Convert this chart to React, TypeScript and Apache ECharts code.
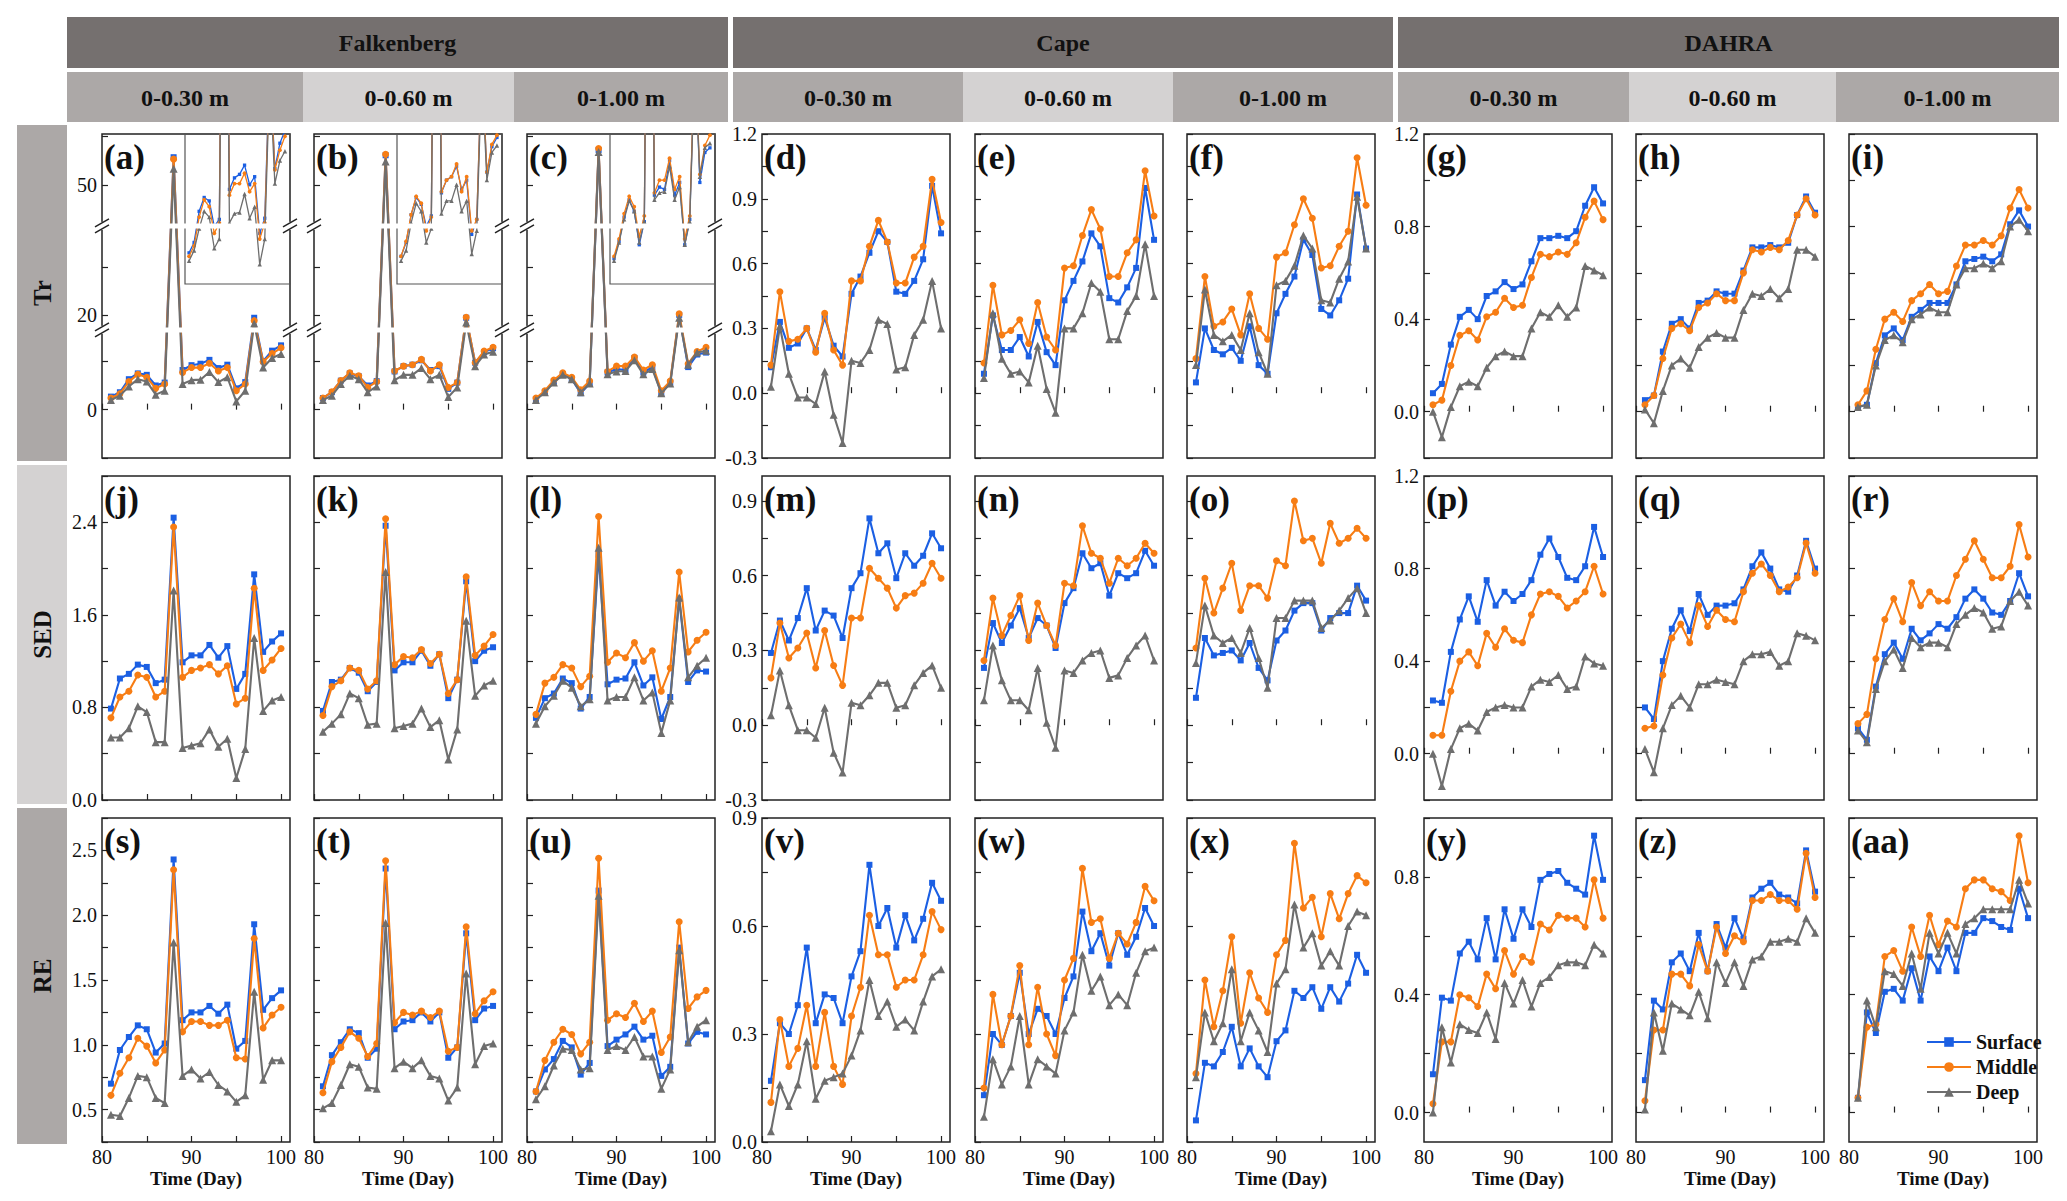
import { useEffect, useRef } from 'react';
import * as echarts from 'echarts';

// ---------------- data ----------------
const DAYS = [81, 82, 83, 84, 85, 86, 87, 88, 89, 90, 91, 92, 93, 94, 95, 96, 97, 98, 99, 100];
const SITES = ['Falkenberg', 'Cape', 'DAHRA'];
const DEPTHS = ['0-0.30 m', '0-0.60 m', '0-1.00 m'];
const METRICS = ['Tr', 'SED', 'RE'];
const PANEL_LABELS = ['(a)', '(b)', '(c)', '(d)', '(e)', '(f)', '(g)', '(h)', '(i)', '(j)', '(k)', '(l)', '(m)', '(n)', '(o)', '(p)', '(q)', '(r)', '(s)', '(t)', '(u)', '(v)', '(w)', '(x)', '(y)', '(z)', '(aa)'];
const SERIES_NAMES = ['Surface', 'Middle', 'Deep'];

// Tr
const a_surface = [2.7, 3.6, 6.3, 7.5, 7.2, 5.0, 5.6, 55.7, 8.2, 9.2, 9.5, 10.3, 8.6, 9.3, 4.4, 5.7, 19.5, 10.0, 12.2, 13.3];
const a_middle = [2.4, 3.3, 5.8, 7.3, 6.7, 4.4, 5.3, 55.3, 7.7, 8.7, 8.7, 9.6, 8.0, 8.7, 3.9, 5.3, 18.9, 9.9, 11.6, 12.8];
const a_deep = [2.0, 2.9, 4.8, 6.3, 5.8, 3.1, 3.9, 53.3, 5.3, 6.1, 6.2, 7.8, 5.7, 6.7, 1.7, 3.9, 18.3, 8.7, 10.7, 11.5];
const b_surface = [2.4, 3.6, 6.0, 7.5, 6.9, 5.0, 5.9, 56.1, 7.9, 9.0, 9.3, 10.2, 8.2, 9.0, 4.3, 5.6, 19.5, 9.7, 11.9, 12.7];
const b_middle = [2.4, 3.7, 6.0, 7.6, 7.0, 4.6, 5.8, 56.3, 8.0, 9.0, 9.3, 10.4, 8.0, 9.3, 4.6, 5.6, 19.6, 9.7, 12.1, 12.9];
const b_deep = [2.0, 2.9, 5.3, 7.0, 6.3, 3.6, 4.8, 54.8, 6.1, 7.2, 7.2, 8.6, 6.3, 7.2, 2.6, 4.6, 18.5, 9.0, 11.4, 12.0];
const c_surface = [2.2, 3.7, 5.8, 7.3, 6.3, 3.4, 5.4, 57.2, 7.7, 8.4, 8.2, 10.7, 7.7, 8.8, 3.4, 5.6, 20.1, 8.8, 11.4, 11.8];
const c_middle = [2.4, 3.9, 6.1, 7.6, 6.7, 4.1, 5.9, 57.5, 7.9, 9.0, 9.0, 10.9, 8.2, 9.3, 3.9, 5.9, 20.3, 9.5, 12.0, 12.9];
const c_deep = [2.0, 3.6, 5.6, 7.2, 6.3, 3.6, 5.4, 56.8, 7.3, 7.9, 8.0, 10.2, 7.3, 8.4, 3.4, 5.4, 19.5, 9.3, 11.8, 12.2];
const d_surface = [0.12, 0.33, 0.21, 0.23, 0.30, 0.20, 0.35, 0.22, 0.17, 0.46, 0.54, 0.65, 0.75, 0.70, 0.47, 0.46, 0.52, 0.62, 0.96, 0.74];
const d_middle = [0.13, 0.47, 0.24, 0.25, 0.30, 0.19, 0.37, 0.20, 0.13, 0.52, 0.52, 0.68, 0.80, 0.70, 0.51, 0.51, 0.63, 0.68, 0.99, 0.79];
const d_deep = [0.03, 0.31, 0.09, -0.02, -0.02, -0.05, 0.10, -0.10, -0.23, 0.15, 0.14, 0.20, 0.34, 0.32, 0.11, 0.12, 0.27, 0.34, 0.52, 0.30];
const e_surface = [0.09, 0.36, 0.20, 0.20, 0.26, 0.17, 0.33, 0.19, 0.13, 0.43, 0.52, 0.61, 0.74, 0.68, 0.44, 0.42, 0.49, 0.58, 0.95, 0.71];
const e_middle = [0.14, 0.50, 0.27, 0.29, 0.34, 0.23, 0.42, 0.26, 0.20, 0.58, 0.59, 0.73, 0.85, 0.76, 0.54, 0.54, 0.65, 0.71, 1.03, 0.82];
const e_deep = [0.07, 0.37, 0.16, 0.09, 0.10, 0.05, 0.22, 0.02, -0.09, 0.30, 0.30, 0.37, 0.51, 0.47, 0.25, 0.25, 0.38, 0.45, 0.69, 0.45];
const f_surface = [0.05, 0.30, 0.20, 0.18, 0.21, 0.15, 0.31, 0.13, 0.09, 0.37, 0.46, 0.54, 0.71, 0.64, 0.39, 0.36, 0.43, 0.53, 0.92, 0.67];
const f_middle = [0.16, 0.54, 0.31, 0.33, 0.39, 0.27, 0.46, 0.30, 0.25, 0.63, 0.65, 0.78, 0.90, 0.81, 0.58, 0.59, 0.68, 0.75, 1.09, 0.87];
const f_deep = [0.13, 0.48, 0.27, 0.24, 0.27, 0.20, 0.37, 0.19, 0.09, 0.50, 0.52, 0.59, 0.73, 0.67, 0.43, 0.42, 0.53, 0.61, 0.91, 0.67];
const g_surface = [0.08, 0.12, 0.29, 0.41, 0.44, 0.40, 0.50, 0.52, 0.56, 0.53, 0.55, 0.65, 0.75, 0.75, 0.76, 0.75, 0.78, 0.89, 0.97, 0.90];
const g_middle = [0.03, 0.05, 0.20, 0.33, 0.35, 0.31, 0.41, 0.43, 0.49, 0.45, 0.46, 0.58, 0.68, 0.67, 0.69, 0.68, 0.73, 0.84, 0.91, 0.83];
const g_deep = [0.00, -0.11, 0.02, 0.11, 0.13, 0.11, 0.19, 0.24, 0.26, 0.24, 0.24, 0.36, 0.43, 0.41, 0.46, 0.41, 0.45, 0.63, 0.61, 0.59];
const h_surface = [0.05, 0.07, 0.26, 0.38, 0.40, 0.36, 0.47, 0.48, 0.52, 0.51, 0.51, 0.61, 0.71, 0.71, 0.72, 0.71, 0.73, 0.85, 0.93, 0.86];
const h_middle = [0.03, 0.07, 0.23, 0.36, 0.38, 0.35, 0.45, 0.47, 0.51, 0.48, 0.48, 0.60, 0.70, 0.69, 0.71, 0.70, 0.74, 0.85, 0.92, 0.85];
const h_deep = [0.01, -0.05, 0.09, 0.20, 0.23, 0.19, 0.28, 0.32, 0.34, 0.32, 0.32, 0.44, 0.51, 0.50, 0.53, 0.49, 0.53, 0.70, 0.70, 0.67];
const i_surface = [0.02, 0.03, 0.21, 0.33, 0.36, 0.31, 0.41, 0.44, 0.47, 0.47, 0.47, 0.55, 0.65, 0.66, 0.67, 0.65, 0.68, 0.81, 0.87, 0.80];
const i_middle = [0.03, 0.09, 0.27, 0.40, 0.43, 0.39, 0.48, 0.51, 0.55, 0.51, 0.52, 0.63, 0.72, 0.72, 0.74, 0.72, 0.76, 0.88, 0.96, 0.88];
const i_deep = [0.02, 0.03, 0.20, 0.31, 0.33, 0.30, 0.40, 0.42, 0.45, 0.43, 0.43, 0.55, 0.62, 0.62, 0.64, 0.62, 0.65, 0.80, 0.83, 0.78];
// SED
const j_surface = [0.79, 1.05, 1.09, 1.17, 1.15, 1.01, 1.04, 2.44, 1.19, 1.25, 1.25, 1.34, 1.23, 1.33, 0.96, 1.09, 1.95, 1.28, 1.37, 1.44];
const j_middle = [0.71, 0.89, 0.94, 1.08, 1.06, 0.89, 0.94, 2.36, 1.06, 1.12, 1.14, 1.17, 1.09, 1.16, 0.83, 0.88, 1.83, 1.12, 1.21, 1.31];
const j_deep = [0.54, 0.54, 0.62, 0.81, 0.76, 0.50, 0.50, 1.81, 0.45, 0.47, 0.49, 0.61, 0.46, 0.53, 0.19, 0.44, 1.40, 0.77, 0.86, 0.89];
const k_surface = [0.77, 1.02, 1.04, 1.14, 1.10, 0.94, 1.02, 2.37, 1.12, 1.19, 1.19, 1.29, 1.16, 1.26, 0.88, 1.04, 1.89, 1.20, 1.29, 1.32];
const k_middle = [0.73, 0.98, 1.03, 1.14, 1.12, 0.96, 1.03, 2.43, 1.17, 1.24, 1.23, 1.30, 1.18, 1.26, 0.92, 1.04, 1.93, 1.25, 1.33, 1.43];
const k_deep = [0.59, 0.66, 0.74, 0.92, 0.88, 0.65, 0.66, 1.97, 0.62, 0.64, 0.66, 0.79, 0.63, 0.69, 0.35, 0.61, 1.55, 0.90, 0.99, 1.03];
const l_surface = [0.71, 0.88, 0.92, 1.05, 1.01, 0.79, 0.89, 2.12, 1.00, 1.04, 1.05, 1.19, 0.99, 1.06, 0.70, 0.89, 1.74, 1.02, 1.12, 1.11];
const l_middle = [0.74, 1.01, 1.06, 1.17, 1.14, 0.98, 1.07, 2.45, 1.19, 1.27, 1.23, 1.36, 1.20, 1.29, 0.94, 1.14, 1.97, 1.28, 1.38, 1.45];
const l_deep = [0.66, 0.81, 0.90, 1.03, 0.97, 0.81, 0.87, 2.18, 0.86, 0.89, 0.89, 1.06, 0.86, 0.93, 0.58, 0.86, 1.75, 1.06, 1.16, 1.23];
const m_surface = [0.29, 0.42, 0.34, 0.43, 0.55, 0.38, 0.46, 0.44, 0.35, 0.55, 0.61, 0.83, 0.69, 0.73, 0.59, 0.69, 0.64, 0.68, 0.77, 0.71];
const m_middle = [0.19, 0.41, 0.27, 0.31, 0.37, 0.23, 0.38, 0.24, 0.16, 0.43, 0.43, 0.63, 0.59, 0.55, 0.47, 0.52, 0.53, 0.57, 0.65, 0.59];
const m_deep = [0.04, 0.22, 0.08, -0.02, -0.02, -0.05, 0.07, -0.11, -0.19, 0.09, 0.08, 0.12, 0.17, 0.17, 0.07, 0.08, 0.16, 0.21, 0.24, 0.15];
const n_surface = [0.23, 0.41, 0.33, 0.40, 0.47, 0.35, 0.43, 0.40, 0.31, 0.49, 0.55, 0.69, 0.63, 0.65, 0.52, 0.61, 0.59, 0.61, 0.70, 0.64];
const n_middle = [0.26, 0.51, 0.36, 0.44, 0.52, 0.34, 0.49, 0.40, 0.32, 0.57, 0.56, 0.80, 0.69, 0.67, 0.57, 0.67, 0.64, 0.67, 0.73, 0.69];
const n_deep = [0.10, 0.32, 0.18, 0.10, 0.10, 0.06, 0.23, 0.01, -0.09, 0.22, 0.21, 0.26, 0.29, 0.30, 0.19, 0.20, 0.27, 0.32, 0.36, 0.26];
const o_surface = [0.11, 0.35, 0.28, 0.29, 0.30, 0.26, 0.33, 0.23, 0.18, 0.34, 0.38, 0.46, 0.49, 0.49, 0.38, 0.43, 0.45, 0.45, 0.56, 0.50];
const o_middle = [0.31, 0.59, 0.45, 0.55, 0.65, 0.46, 0.56, 0.56, 0.51, 0.66, 0.64, 0.90, 0.74, 0.75, 0.65, 0.81, 0.73, 0.75, 0.79, 0.75];
const o_deep = [0.25, 0.48, 0.36, 0.33, 0.35, 0.29, 0.39, 0.27, 0.15, 0.43, 0.43, 0.50, 0.50, 0.50, 0.39, 0.42, 0.46, 0.51, 0.55, 0.45];
const p_surface = [0.23, 0.22, 0.44, 0.58, 0.68, 0.57, 0.75, 0.64, 0.70, 0.66, 0.69, 0.75, 0.86, 0.93, 0.85, 0.76, 0.75, 0.81, 0.98, 0.85];
const p_middle = [0.08, 0.08, 0.27, 0.40, 0.44, 0.38, 0.52, 0.46, 0.54, 0.49, 0.48, 0.60, 0.69, 0.70, 0.68, 0.63, 0.66, 0.70, 0.81, 0.69];
const p_deep = [0.00, -0.14, 0.02, 0.11, 0.13, 0.10, 0.18, 0.20, 0.21, 0.20, 0.20, 0.29, 0.32, 0.31, 0.34, 0.28, 0.29, 0.42, 0.39, 0.38];
const q_surface = [0.20, 0.15, 0.40, 0.54, 0.62, 0.53, 0.69, 0.60, 0.64, 0.64, 0.65, 0.71, 0.81, 0.87, 0.80, 0.71, 0.70, 0.77, 0.92, 0.80];
const q_middle = [0.11, 0.12, 0.34, 0.50, 0.56, 0.48, 0.64, 0.55, 0.62, 0.58, 0.57, 0.70, 0.78, 0.82, 0.77, 0.70, 0.72, 0.76, 0.91, 0.78];
const q_deep = [0.02, -0.08, 0.11, 0.21, 0.25, 0.20, 0.30, 0.30, 0.32, 0.31, 0.30, 0.40, 0.43, 0.43, 0.44, 0.38, 0.40, 0.52, 0.51, 0.49];
const r_surface = [0.11, 0.06, 0.29, 0.43, 0.48, 0.41, 0.54, 0.49, 0.52, 0.56, 0.54, 0.59, 0.67, 0.71, 0.67, 0.61, 0.60, 0.66, 0.78, 0.68];
const r_middle = [0.13, 0.17, 0.41, 0.58, 0.67, 0.57, 0.74, 0.64, 0.70, 0.66, 0.66, 0.77, 0.84, 0.92, 0.84, 0.76, 0.76, 0.81, 0.99, 0.85];
const r_deep = [0.10, 0.05, 0.28, 0.40, 0.45, 0.37, 0.50, 0.46, 0.48, 0.48, 0.46, 0.56, 0.60, 0.63, 0.61, 0.54, 0.55, 0.66, 0.70, 0.64];
// RE
const s_surface = [0.70, 0.96, 1.06, 1.15, 1.12, 0.94, 1.01, 2.43, 1.19, 1.25, 1.25, 1.30, 1.24, 1.31, 0.97, 1.03, 1.93, 1.27, 1.36, 1.42];
const s_middle = [0.61, 0.78, 0.90, 1.05, 0.99, 0.86, 0.96, 2.35, 1.10, 1.18, 1.18, 1.15, 1.15, 1.19, 0.90, 0.89, 1.82, 1.13, 1.23, 1.29];
const s_deep = [0.46, 0.45, 0.59, 0.76, 0.75, 0.59, 0.55, 1.79, 0.76, 0.81, 0.74, 0.79, 0.69, 0.64, 0.56, 0.61, 1.41, 0.73, 0.88, 0.88];
const t_surface = [0.68, 0.92, 1.02, 1.12, 1.09, 0.90, 0.97, 2.36, 1.12, 1.18, 1.19, 1.25, 1.18, 1.25, 0.90, 0.98, 1.86, 1.19, 1.28, 1.30];
const t_middle = [0.63, 0.87, 0.98, 1.10, 1.05, 0.91, 1.01, 2.42, 1.17, 1.25, 1.23, 1.26, 1.21, 1.26, 0.95, 0.98, 1.91, 1.24, 1.34, 1.41];
const t_deep = [0.51, 0.55, 0.69, 0.85, 0.83, 0.67, 0.66, 1.94, 0.82, 0.87, 0.82, 0.88, 0.76, 0.74, 0.57, 0.67, 1.55, 0.85, 0.99, 1.01];
const u_surface = [0.64, 0.81, 0.89, 1.03, 0.98, 0.77, 0.86, 2.19, 0.99, 1.04, 1.08, 1.14, 1.04, 1.07, 0.76, 0.83, 1.75, 1.01, 1.10, 1.08];
const u_middle = [0.64, 0.88, 1.02, 1.12, 1.08, 0.93, 1.02, 2.44, 1.19, 1.24, 1.21, 1.32, 1.18, 1.26, 0.94, 1.06, 1.95, 1.28, 1.37, 1.42];
const u_deep = [0.58, 0.68, 0.84, 0.97, 0.96, 0.81, 0.82, 2.15, 0.96, 0.99, 0.96, 1.06, 0.91, 0.91, 0.66, 0.81, 1.73, 1.02, 1.14, 1.19];
const v_surface = [0.17, 0.33, 0.30, 0.38, 0.54, 0.33, 0.41, 0.40, 0.33, 0.46, 0.53, 0.77, 0.60, 0.65, 0.54, 0.63, 0.56, 0.62, 0.72, 0.67];
const v_middle = [0.11, 0.34, 0.21, 0.26, 0.38, 0.21, 0.36, 0.21, 0.16, 0.35, 0.43, 0.63, 0.52, 0.52, 0.43, 0.45, 0.45, 0.52, 0.64, 0.59];
const v_deep = [0.03, 0.16, 0.10, 0.16, 0.28, 0.12, 0.17, 0.18, 0.19, 0.24, 0.31, 0.45, 0.35, 0.39, 0.32, 0.34, 0.31, 0.39, 0.46, 0.48];
const w_surface = [0.13, 0.30, 0.27, 0.35, 0.47, 0.30, 0.37, 0.35, 0.30, 0.40, 0.46, 0.64, 0.53, 0.58, 0.49, 0.58, 0.52, 0.57, 0.65, 0.60];
const w_middle = [0.15, 0.41, 0.27, 0.35, 0.49, 0.27, 0.43, 0.30, 0.24, 0.45, 0.51, 0.76, 0.61, 0.62, 0.51, 0.58, 0.55, 0.61, 0.71, 0.67];
const w_deep = [0.07, 0.23, 0.16, 0.21, 0.35, 0.16, 0.23, 0.21, 0.19, 0.31, 0.36, 0.52, 0.42, 0.46, 0.38, 0.41, 0.38, 0.47, 0.53, 0.54];
const x_surface = [0.06, 0.22, 0.21, 0.25, 0.32, 0.21, 0.26, 0.21, 0.18, 0.28, 0.31, 0.42, 0.40, 0.43, 0.37, 0.43, 0.39, 0.44, 0.52, 0.47];
const x_middle = [0.19, 0.45, 0.32, 0.42, 0.57, 0.33, 0.47, 0.40, 0.36, 0.52, 0.56, 0.83, 0.65, 0.68, 0.57, 0.69, 0.62, 0.69, 0.74, 0.72];
const x_deep = [0.18, 0.36, 0.28, 0.33, 0.48, 0.28, 0.36, 0.31, 0.25, 0.44, 0.48, 0.66, 0.54, 0.58, 0.49, 0.53, 0.49, 0.60, 0.64, 0.63];
const y_surface = [0.13, 0.39, 0.38, 0.54, 0.58, 0.52, 0.66, 0.52, 0.69, 0.59, 0.69, 0.63, 0.79, 0.81, 0.82, 0.78, 0.76, 0.74, 0.94, 0.79];
const y_middle = [0.03, 0.24, 0.24, 0.40, 0.39, 0.36, 0.47, 0.42, 0.55, 0.47, 0.53, 0.51, 0.64, 0.62, 0.67, 0.66, 0.66, 0.63, 0.79, 0.66];
const y_deep = [0.00, 0.29, 0.17, 0.30, 0.28, 0.27, 0.34, 0.25, 0.44, 0.37, 0.45, 0.36, 0.44, 0.46, 0.50, 0.51, 0.51, 0.50, 0.57, 0.54];
const z_surface = [0.11, 0.38, 0.35, 0.51, 0.54, 0.48, 0.61, 0.48, 0.64, 0.56, 0.66, 0.59, 0.73, 0.76, 0.78, 0.74, 0.73, 0.71, 0.89, 0.75];
const z_middle = [0.04, 0.28, 0.28, 0.47, 0.47, 0.43, 0.57, 0.48, 0.63, 0.54, 0.60, 0.58, 0.72, 0.72, 0.74, 0.72, 0.72, 0.69, 0.88, 0.73];
const z_deep = [0.01, 0.34, 0.21, 0.37, 0.35, 0.33, 0.41, 0.32, 0.51, 0.44, 0.51, 0.43, 0.52, 0.53, 0.58, 0.58, 0.59, 0.58, 0.66, 0.61];
const aa_surface = [0.05, 0.34, 0.27, 0.41, 0.42, 0.38, 0.49, 0.38, 0.53, 0.48, 0.56, 0.48, 0.61, 0.61, 0.66, 0.65, 0.63, 0.62, 0.76, 0.66];
const aa_middle = [0.05, 0.29, 0.30, 0.53, 0.55, 0.48, 0.63, 0.53, 0.67, 0.57, 0.65, 0.63, 0.76, 0.79, 0.79, 0.76, 0.75, 0.72, 0.94, 0.78];
const aa_deep = [0.05, 0.38, 0.29, 0.48, 0.47, 0.43, 0.54, 0.42, 0.61, 0.54, 0.61, 0.54, 0.64, 0.66, 0.69, 0.69, 0.69, 0.69, 0.79, 0.71];

const PANEL_DATA = [
  [a_surface, a_middle, a_deep], [b_surface, b_middle, b_deep], [c_surface, c_middle, c_deep],
  [d_surface, d_middle, d_deep], [e_surface, e_middle, e_deep], [f_surface, f_middle, f_deep],
  [g_surface, g_middle, g_deep], [h_surface, h_middle, h_deep], [i_surface, i_middle, i_deep],
  [j_surface, j_middle, j_deep], [k_surface, k_middle, k_deep], [l_surface, l_middle, l_deep],
  [m_surface, m_middle, m_deep], [n_surface, n_middle, n_deep], [o_surface, o_middle, o_deep],
  [p_surface, p_middle, p_deep], [q_surface, q_middle, q_deep], [r_surface, r_middle, r_deep],
  [s_surface, s_middle, s_deep], [t_surface, t_middle, t_deep], [u_surface, u_middle, u_deep],
  [v_surface, v_middle, v_deep], [w_surface, w_middle, w_deep], [x_surface, x_middle, x_deep],
  [y_surface, y_middle, y_deep], [z_surface, z_middle, z_deep], [aa_surface, aa_middle, aa_deep],
];

// tick values / labels
const X_TICKS = [80, 85, 90, 95, 100];
const X_LABELS = [80, 90, 100];
const TR_FALK_TICKS = [-10, 0, 10, 20, 30, 50, 60];
const TR_FALK_LABELS = [0, 20, 50];
const TR_FALK_BREAKS = [[16, 17.5], [38, 42]];
const CAPE_TR_TICKS = [-0.3, -0.15, 0, 0.15, 0.3, 0.45, 0.6, 0.75, 0.9, 1.05, 1.2];
const CAPE_TR_LABELS = [-0.3, 0, 0.3, 0.6, 0.9, 1.2];
const DAHRA_TICKS = [-0.2, 0, 0.2, 0.4, 0.6, 0.8, 1.0, 1.2];
const DAHRA_LABELS = [0, 0.4, 0.8, 1.2];
const SED_FALK_TICKS = [0, 0.4, 0.8, 1.2, 1.6, 2.0, 2.4, 2.8];
const SED_FALK_LABELS = [0, 0.8, 1.6, 2.4];
const SED_CAPE_TICKS = [-0.3, -0.15, 0, 0.15, 0.3, 0.45, 0.6, 0.75, 0.9];
const SED_CAPE_LABELS = [-0.3, 0, 0.3, 0.6, 0.9];
const RE_FALK_TICKS = [0.25, 0.5, 0.75, 1.0, 1.25, 1.5, 1.75, 2.0, 2.25, 2.5, 2.75];
const RE_FALK_LABELS = [0.5, 1.0, 1.5, 2.0, 2.5];
const RE_CAPE_TICKS = [0, 0.15, 0.3, 0.45, 0.6, 0.75, 0.9];
const RE_CAPE_LABELS = [0, 0.3, 0.6, 0.9];
const RE_DAHRA_TICKS = [0, 0.2, 0.4, 0.6, 0.8, 1.0];
const RE_DAHRA_LABELS = [0, 0.4, 0.8];

// ---------------- layout / style ----------------
const FONT = "'Liberation Serif', 'Times New Roman', serif";
const COL_LEFT = [102, 314, 527, 762, 975, 1187, 1424, 1636, 1849];
const ROW_TOP = [134, 476, 818];
const PANEL_W = 188;
const PANEL_H = 324;
const SITE_X = [[67, 728], [733, 1393], [1398, 2059]];
const DEPTH_X = [
  [67, 303, 514, 728],
  [733, 963, 1173, 1393],
  [1398, 1629, 1836, 2059],
];
const ROW_LABEL_Y = [[125, 461], [465, 804], [808, 1144]];
const SITE_BG = '#75706f';
const DARK_BG = '#aca8a7';
const LIGHT_BG = '#d4d2d2';
const STYLES = [
  { color: '#1b5fe3', symbol: 'rect', size: 6 },
  { color: '#f77d14', symbol: 'circle', size: 7 },
  { color: '#6e6e6e', symbol: 'triangle', size: 8 },
];

type Spec = { min: number; max: number; ticks: number[]; labels: number[]; dec: number; breaks?: number[][] };
const AXES: Spec[][] = [
  [
    { min: -10, max: 60.5, ticks: TR_FALK_TICKS, labels: TR_FALK_LABELS, dec: 0, breaks: TR_FALK_BREAKS },
    { min: -0.3, max: 1.2, ticks: CAPE_TR_TICKS, labels: CAPE_TR_LABELS, dec: 1 },
    { min: -0.2, max: 1.2, ticks: DAHRA_TICKS, labels: DAHRA_LABELS, dec: 1 },
  ],
  [
    { min: 0, max: 2.8, ticks: SED_FALK_TICKS, labels: SED_FALK_LABELS, dec: 1 },
    { min: -0.3, max: 1.0, ticks: SED_CAPE_TICKS, labels: SED_CAPE_LABELS, dec: 1 },
    { min: -0.2, max: 1.2, ticks: DAHRA_TICKS, labels: DAHRA_LABELS, dec: 1 },
  ],
  [
    { min: 0.25, max: 2.75, ticks: RE_FALK_TICKS, labels: RE_FALK_LABELS, dec: 1 },
    { min: 0, max: 0.9, ticks: RE_CAPE_TICKS, labels: RE_CAPE_LABELS, dec: 1 },
    { min: -0.1, max: 1.0, ticks: RE_DAHRA_TICKS, labels: RE_DAHRA_LABELS, dec: 1 },
  ],
];

function txt(text: string, size: number) {
  return { text, fontFamily: FONT, fontWeight: 'bold', fontSize: size, fill: '#111' };
}

function baseGraphics(): any[] {
  const g: any[] = [];
  SITES.forEach((name, s) => {
    const [x0, x1] = SITE_X[s];
    g.push({ type: 'rect', silent: true, shape: { x: x0, y: 17, width: x1 - x0, height: 51 }, style: { fill: SITE_BG } });
    g.push({ type: 'text', silent: true, x: (x0 + x1) / 2, y: 43, style: { ...txt(name, 24), align: 'center', verticalAlign: 'middle' } });
    DEPTHS.forEach((dname, d) => {
      const a = DEPTH_X[s][d];
      const b = DEPTH_X[s][d + 1];
      g.push({ type: 'rect', silent: true, shape: { x: a, y: 72, width: b - a, height: 50 }, style: { fill: d === 1 ? LIGHT_BG : DARK_BG } });
      g.push({ type: 'text', silent: true, x: (a + b) / 2, y: 98, style: { ...txt(dname, 24), align: 'center', verticalAlign: 'middle' } });
    });
  });
  METRICS.forEach((m, r) => {
    const [y0, y1] = ROW_LABEL_Y[r];
    g.push({ type: 'rect', silent: true, shape: { x: 17, y: y0, width: 50, height: y1 - y0 }, style: { fill: r === 1 ? LIGHT_BG : DARK_BG } });
    g.push({ type: 'text', silent: true, x: 42, y: (y0 + y1) / 2, rotation: Math.PI / 2, style: { ...txt(m, 25), align: 'center', verticalAlign: 'middle' } });
  });
  for (let r = 0; r < 3; r++) {
    for (let c = 0; c < 9; c++) {
      g.push({ type: 'text', silent: true, z: 50, x: COL_LEFT[c] + 2, y: ROW_TOP[r] + 6, style: { ...txt(PANEL_LABELS[r * 9 + c], 35), align: 'left', verticalAlign: 'top' } });
    }
  }
  return g;
}

function fmt(v: number, dec: number) {
  return dec === 0 ? String(Math.round(v)) : (Math.abs(v) < 1e-9 ? 0 : v).toFixed(dec);
}

function buildOption() {
  const grid: any[] = [];
  const xAxis: any[] = [];
  const yAxis: any[] = [];
  const series: any[] = [];
  const tickStyle = { color: '#222', width: 1.2 };
  for (let r = 0; r < 3; r++) {
    for (let c = 0; c < 9; c++) {
      const p = r * 9 + c;
      const spec = AXES[r][Math.floor(c / 3)];
      grid.push({ left: COL_LEFT[c], top: ROW_TOP[r], width: PANEL_W, height: PANEL_H, show: true, borderColor: '#222', borderWidth: 1.5, backgroundColor: 'transparent', outerBoundsMode: 'none' });
      xAxis.push({
        type: 'value', gridIndex: p, min: 80, max: 101,
        axisLine: { show: false }, splitLine: { show: false },
        axisTick: { show: true, inside: true, length: 6, customValues: X_TICKS, lineStyle: tickStyle },
        axisLabel: { show: r === 2, customValues: X_LABELS, fontFamily: FONT, fontSize: 20, color: '#111', margin: 5 },
        name: r === 2 ? 'Time (Day)' : '', nameLocation: 'middle', nameGap: 27,
        nameTextStyle: { fontFamily: FONT, fontWeight: 'bold', fontSize: 19, color: '#111' },
      });
      const y: any = {
        type: 'value', gridIndex: p, min: spec.min, max: spec.max,
        axisLine: { show: false }, splitLine: { show: false },
        axisTick: { show: true, inside: true, length: 6, customValues: spec.ticks, lineStyle: tickStyle },
        axisLabel: { show: c % 3 === 0, customValues: spec.labels, formatter: (v: number) => fmt(v, spec.dec), fontFamily: FONT, fontSize: 20, color: '#111', margin: 5 },
      };
      if (spec.breaks) {
        y.breaks = spec.breaks.map((b) => ({ start: b[0], end: b[1], gap: '1.5%' }));
        y.breakArea = { show: true, itemStyle: { color: '#ffffff', borderColor: '#ffffff', borderWidth: 0, opacity: 1 }, zigzagAmplitude: 0, zigzagZ: 100, expandOnClick: false };
        y.breakLabelLayout = { moveOverlap: false };
      }
      yAxis.push(y);
      PANEL_DATA[p].forEach((vals, k) => {
        const st = STYLES[k];
        series.push({
          type: 'line', name: SERIES_NAMES[k], xAxisIndex: p, yAxisIndex: p, silent: true,
          data: DAYS.map((d, i) => [d, vals[i]]),
          symbol: st.symbol, symbolSize: st.size, showSymbol: true,
          lineStyle: { color: st.color, width: 2.1 }, itemStyle: { color: st.color }, z: 3 + k,
        });
      });
    }
  }
  // insets (zoomed views) for Falkenberg Tr panels
  for (let c = 0; c < 3; c++) {
    const gi = 27 + c;
    grid.push({ left: COL_LEFT[c] + 83, top: ROW_TOP[0], width: PANEL_W - 83, height: 150, show: true, borderColor: '#555', borderWidth: 1.2, backgroundColor: 'transparent', outerBoundsMode: 'none' });
    xAxis.push({ type: 'value', gridIndex: gi, min: 80.2, max: 101, show: false });
    yAxis.push({ type: 'value', gridIndex: gi, min: 0, max: 13, show: false });
    PANEL_DATA[c].forEach((vals, k) => {
      const st = STYLES[k];
      series.push({
        type: 'line', name: SERIES_NAMES[k], xAxisIndex: gi, yAxisIndex: gi, silent: true, clip: true,
        data: DAYS.map((d, i) => [d, vals[i]]),
        symbol: st.symbol, symbolSize: st.size * 0.55,
        lineStyle: { color: st.color, width: 1.3 }, itemStyle: { color: st.color }, z: 3 + k,
      });
    });
  }
  return {
    animation: false,
    backgroundColor: '#ffffff',
    textStyle: { fontFamily: FONT },
    grid, xAxis, yAxis, series,
    legend: {
      left: 1921, top: 1027, orient: 'vertical', itemWidth: 44, itemHeight: 12, itemGap: 5,
      data: SERIES_NAMES, selectedMode: false,
      textStyle: { fontFamily: FONT, fontWeight: 'bold', fontSize: 20, color: '#111' },
    },
    graphic: baseGraphics(),
  };
}

export default function App() {
  const ref = useRef<HTMLDivElement>(null);
  useEffect(() => {
    if (!ref.current) return;
    const chart = echarts.init(ref.current, null, { renderer: 'svg' });
    chart.setOption(buildOption() as any);
    const marks: any[] = [];
    for (let c = 0; c < 3; c++) {
      TR_FALK_BREAKS.forEach((b) => {
        const p0 = chart.convertToPixel({ yAxisIndex: c } as any, b[0]) as unknown as number;
        const p1 = chart.convertToPixel({ yAxisIndex: c } as any, b[1]) as unknown as number;
        if (typeof p0 !== 'number' || typeof p1 !== 'number' || isNaN(p0) || isNaN(p1)) return;
        const py = (p0 + p1) / 2;
        [COL_LEFT[c], COL_LEFT[c] + PANEL_W].forEach((px) => {
          marks.push({ type: 'rect', silent: true, z: 120, shape: { x: px - 3, y: py - 4, width: 6, height: 8 }, style: { fill: '#fff' } });
          [-3, 3].forEach((dy) => {
            marks.push({ type: 'line', silent: true, z: 121, shape: { x1: px - 7, y1: py + dy + 4, x2: px + 7, y2: py + dy - 4 }, style: { stroke: '#222', lineWidth: 1.4 } });
          });
        });
      });
    }
    chart.setOption({ graphic: [...baseGraphics(), ...marks] } as any);
    return () => chart.dispose();
  }, []);
  return <div ref={ref} style={{ position: 'fixed', left: 0, top: 0, width: 2067, height: 1201, background: '#fff' }} />;
}
